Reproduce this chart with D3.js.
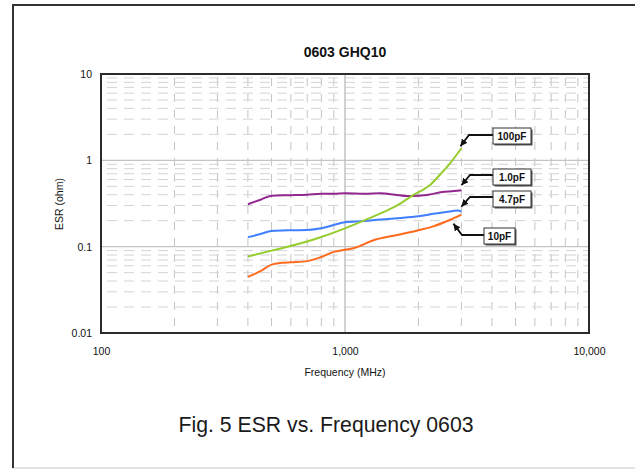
<!DOCTYPE html>
<html>
<head>
<meta charset="utf-8">
<script src="https://cdn.jsdelivr.net/npm/d3@7"></script>
<style>
  html, body { margin: 0; padding: 0; background: #fff; }
  svg { display: block; font-family: "Liberation Sans", Arial, sans-serif; }
</style>
</head>
<body>
<svg id="chart" width="635" height="470"></svg>
<script>
// series data: [frequency MHz, ESR ohm]
const series_1p0 = [[400,0.31],[450,0.35],[500,0.39],[600,0.395],[700,0.40],[800,0.41],[900,0.41],[1000,0.415],[1200,0.41],[1400,0.415],[1600,0.40],[1800,0.385],[2000,0.39],[2200,0.40],[2500,0.43],[2800,0.44],[3000,0.45]];
const series_4p7 = [[400,0.129],[450,0.14],[500,0.152],[600,0.155],[700,0.156],[800,0.163],[900,0.178],[1000,0.192],[1200,0.198],[1400,0.207],[1700,0.215],[2000,0.225],[2300,0.24],[2600,0.252],[2900,0.262],[3000,0.255]];
const series_100p = [[400,0.077],[500,0.09],[550,0.096],[750,0.122],[1000,0.163],[1200,0.202],[1450,0.254],[1650,0.304],[1900,0.395],[2100,0.46],[2250,0.53],[2450,0.68],[2700,0.93],[3000,1.38]];
const series_10p = [[400,0.0446],[450,0.052],[500,0.062],[550,0.065],[600,0.066],[700,0.068],[800,0.076],[900,0.087],[1000,0.092],[1100,0.097],[1300,0.118],[1600,0.135],[2000,0.155],[2300,0.172],[2700,0.205],[3000,0.235]];

const seriesNames = ["1.0pF", "4.7pF", "100pF", "10pF"];
const seriesColors = ["#92278f", "#3f7fff", "#95cc2e", "#ff6a1e"];
const xTicks = [100, 1000, 10000];
const yTicks = [10, 1, 0.1, 0.01];

const svg = d3.select("#chart");

// outer frame
svg.append("rect").attr("x", 13).attr("y", 5).attr("width", 630).attr("height", 463)
   .attr("fill", "#fff").attr("stroke", "#c8c8c8").attr("stroke-width", 1);
svg.append("path").attr("d", "M13,468V5H640").attr("fill", "none")
   .attr("stroke", "#333").attr("stroke-width", 2);

const pLeft = 101, pRight = 589, pTop = 74, pBottom = 333;
const x = d3.scaleLog().domain([100, 10000]).range([pLeft, pRight]);
const y = d3.scaleLog().domain([0.01, 10]).range([pBottom, pTop]);

const g = svg.append("g");

// minor dashed grid
const minorX = [];
[100, 1000].forEach(d => { for (let k = 2; k <= 9; k++) minorX.push(d * k); });
const minorY = [];
[0.01, 0.1, 1].forEach(d => { for (let k = 2; k <= 9; k++) minorY.push(d * k); });

g.selectAll(".minor-x").data(minorX).enter().append("line")
   .attr("x1", d => x(d)).attr("x2", d => x(d)).attr("y1", pTop).attr("y2", pBottom)
   .attr("stroke", "#c4c4c4").attr("stroke-width", 1).attr("stroke-dasharray", "8,8")
   .attr("stroke-dashoffset", -4);
g.selectAll(".minor-y").data(minorY).enter().append("line")
   .attr("x1", pLeft).attr("x2", pRight).attr("y1", d => y(d)).attr("y2", d => y(d))
   .attr("stroke", "#d4d4d4").attr("stroke-width", 1).attr("stroke-dasharray", "10,7")
   .attr("stroke-dashoffset", -6);

// major grid
g.selectAll(".major-x").data([1000]).enter().append("line")
   .attr("x1", d => x(d)).attr("x2", d => x(d)).attr("y1", pTop).attr("y2", pBottom)
   .attr("stroke", "#b4b4b4").attr("stroke-width", 1.2);
g.selectAll(".major-y").data([1, 0.1]).enter().append("line")
   .attr("x1", pLeft).attr("x2", pRight).attr("y1", d => y(d)).attr("y2", d => y(d))
   .attr("stroke", "#c4c4c4").attr("stroke-width", 1.2);

// lines
const line = d3.line().x(d => x(d[0])).y(d => y(d[1])).curve(d3.curveMonotoneX);
const allSeries = [series_1p0, series_4p7, series_100p, series_10p];
g.selectAll(".series").data(allSeries).enter().append("path")
   .attr("d", line).attr("fill", "none")
   .attr("stroke", (d, i) => seriesColors[i]).attr("stroke-width", 2)
   .attr("stroke-linejoin", "round");

// plot border
g.append("rect").attr("x", pLeft).attr("y", pTop).attr("width", pRight - pLeft).attr("height", pBottom - pTop)
   .attr("fill", "none").attr("stroke", "#2b2b2b").attr("stroke-width", 2);

// axes
const xAxis = svg.append("g").attr("transform", `translate(0,${pBottom})`)
   .call(d3.axisBottom(x).tickValues(xTicks).tickFormat(d3.format(",")).tickSize(0).tickPadding(15));
const yAxis = svg.append("g").attr("transform", `translate(${pLeft},0)`)
   .call(d3.axisLeft(y).tickValues(yTicks).tickFormat(d => String(d)).tickSize(0).tickPadding(9));
[xAxis, yAxis].forEach(a => {
   a.select(".domain").remove();
   a.selectAll("text").attr("font-size", 10.5).attr("fill", "#111")
      .attr("font-family", "Liberation Sans, Arial, sans-serif");
});

// titles
svg.append("text").attr("x", 345).attr("y", 57).attr("text-anchor", "middle")
   .attr("font-size", 14).attr("font-weight", "bold").attr("fill", "#111").text("0603 GHQ10");
svg.append("text").attr("x", 345).attr("y", 376).attr("text-anchor", "middle")
   .attr("font-size", 10.5).attr("fill", "#111").text("Frequency (MHz)");
svg.append("text").attr("transform", "translate(63,204) rotate(-90)").attr("text-anchor", "middle")
   .attr("font-size", 10.5).attr("fill", "#111").text("ESR (ohm)");
svg.append("text").attr("x", 326).attr("y", 432).attr("text-anchor", "middle")
   .attr("font-size", 22).attr("fill", "#1a1a1a")
   .attr("textLength", 295).attr("lengthAdjust", "spacingAndGlyphs")
   .text("Fig. 5 ESR vs. Frequency 0603");

// callout labels
svg.append("defs").append("marker").attr("id", "arr").attr("viewBox", "0 0 10 10")
   .attr("refX", 10).attr("refY", 5).attr("markerWidth", 7).attr("markerHeight", 7)
   .attr("markerUnits", "userSpaceOnUse").attr("orient", "auto")
   .append("path").attr("d", "M0,0L10,5L0,10z").attr("fill", "#111");

const labelBoxes = [
   { name: "100pF", bx: 493, by: 128, bw: 38, s: series_100p, hy: 135, hx: 469, dx: -1, dy: -2 },
   { name: "1.0pF", bx: 493, by: 169, bw: 38, s: series_1p0, hy: 175, hx: 470, dx: 0, dy: -5 },
   { name: "4.7pF", bx: 493, by: 191, bw: 38, s: series_4p7, hy: 197, hx: 470, dx: 0, dy: -5 },
   { name: "10pF", bx: 484, by: 228, bw: 31, s: series_10p, hy: 235, hx: 462, dx: -8, dy: 9 }
];
labelBoxes.forEach(b => {
   const last = b.s[b.s.length - 1];
   const ex = x(last[0]) + b.dx, ey = y(last[1]) + b.dy;
   svg.append("path").attr("d", `M${b.bx},${b.hy}H${b.hx}L${ex},${ey}`)
      .attr("fill", "none").attr("stroke", "#111").attr("stroke-width", 1.8)
      .attr("marker-end", "url(#arr)");
   svg.append("rect").attr("x", b.bx + 1.5).attr("y", b.by + 1.5).attr("width", b.bw).attr("height", 16)
      .attr("fill", "#555");
   svg.append("rect").attr("x", b.bx).attr("y", b.by).attr("width", b.bw).attr("height", 16)
      .attr("fill", "#fff").attr("stroke", "#333").attr("stroke-width", 1);
   svg.append("text").attr("x", b.bx + b.bw / 2).attr("y", b.by + 11.5).attr("text-anchor", "middle")
      .attr("font-size", 10).attr("font-weight", "bold").attr("fill", "#111").text(b.name);
});
</script>
</body>
</html>
